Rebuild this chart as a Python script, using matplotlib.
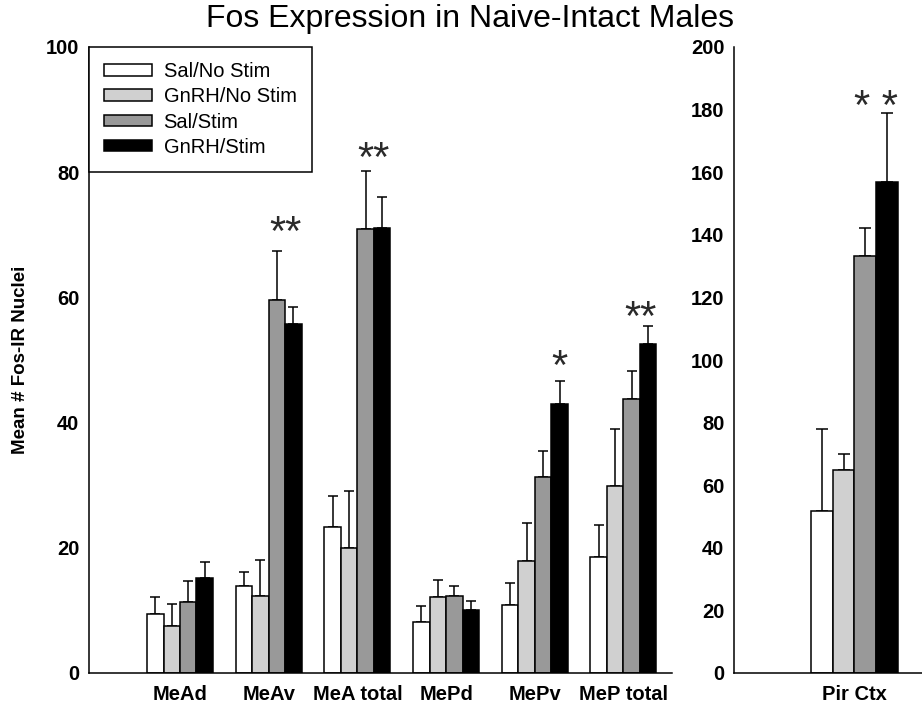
import matplotlib
matplotlib.use('Agg')
import matplotlib.pyplot as plt
import numpy as np

regions = ['MeAd', 'MeAv', 'MeA total', 'MePd', 'MePv', 'MeP total']
treatments = ['Sal/No Stim', 'GnRH/No Stim', 'Sal/Stim', 'GnRH/Stim']
colors = ['white', '#d0d0d0', '#999999', 'black']

# mean Fos-IR nuclei per region, one list per treatment
sal_nostim = [9.4, 13.9, 23.4, 8.1, 10.9, 18.6]
gnrh_nostim = [7.5, 12.3, 20.0, 12.2, 17.9, 29.8]
sal_stim = [11.3, 59.6, 70.9, 12.3, 31.3, 43.7]
gnrh_stim = [15.2, 55.8, 71.1, 10.0, 42.9, 52.6]

# SEM (upper bars only)
sal_nostim_err = [2.8, 2.3, 4.8, 2.6, 3.4, 5.1]
gnrh_nostim_err = [3.6, 5.7, 9.1, 2.7, 6.1, 9.1]
sal_stim_err = [3.4, 7.8, 9.3, 1.6, 4.2, 4.5]
gnrh_stim_err = [2.6, 2.6, 5.0, 1.5, 3.7, 2.9]

# piriform cortex, its own scale
pir_label = 'Pir Ctx'
pir_means = [51.6, 65.0, 133.1, 156.9]
pir_err = [26.3, 5.0, 9.2, 22.0]

# significance marks: region index, text, height
sig_regions = [1, 2, 4, 5]
sig_text = ['**', '**', '*', '**']
sig_y = [70.1, 81.9, 48.7, 56.5]
pir_sig_y = 180.5

means = [sal_nostim, gnrh_nostim, sal_stim, gnrh_stim]
errs = [sal_nostim_err, gnrh_nostim_err, sal_stim_err, gnrh_stim_err]

plt.rcParams['font.family'] = ['Liberation Sans', 'DejaVu Sans']

fig = plt.figure(figsize=(9.22, 7.09), dpi=100)
ax = fig.add_axes([89 / 922, 36 / 709, 583 / 922, 626 / 709])
ax2 = fig.add_axes([734 / 922, 36 / 709, 188 / 922, 626 / 709])

width = 0.186
x = np.arange(len(regions))
for j, (m, e) in enumerate(zip(means, errs)):
    xs = x + (j - 1.5) * width
    ax.bar(xs, m, width, color=colors[j], edgecolor='black', linewidth=1.1,
           label=treatments[j], zorder=2)
    ax.errorbar(xs, m, yerr=[np.zeros(len(m)), e], fmt='none', ecolor='black',
                elinewidth=1.1, capsize=3.8, capthick=1.1, zorder=1)

for i, t, y in zip(sig_regions, sig_text, sig_y):
    # double marks sit over the two stim bars, single mark over GnRH/Stim
    xm = i + width if t == '**' else i + 1.5 * width
    ax.text(xm, y, t, ha='center', va='center', fontsize=30, color='#2a2a2a')

ax.set_xlim(-1.026, 5.547)
ax.set_ylim(0, 100)
ax.set_yticks(range(0, 101, 20))
ax.set_xticks(x)
ax.set_xticklabels(regions)

w2 = 0.2
x2 = (np.arange(4) - 1.5) * w2
ax2.bar(x2, pir_means, w2, color=colors, edgecolor='black', linewidth=1.1, zorder=2)
ax2.errorbar(x2, pir_means, yerr=[np.zeros(4), pir_err], fmt='none', ecolor='black',
             elinewidth=1.1, capsize=4.6, capthick=1.1, zorder=1)
ax2.text(w2, pir_sig_y, '* *', ha='center', va='center', fontsize=30, color='#2a2a2a')
ax2.set_xlim(-1.105, 0.619)
ax2.set_ylim(0, 200)
ax2.set_yticks(range(0, 201, 20))
ax2.set_xticks([0])
ax2.set_xticklabels([pir_label])

for a in (ax, ax2):
    for s in ('top', 'right'):
        a.spines[s].set_visible(False)
    for s in ('left', 'bottom'):
        a.spines[s].set_linewidth(1.1)
    a.tick_params(length=0, labelsize=14.5)
    a.tick_params(axis='x', pad=9)
    a.tick_params(axis='y', pad=7)
    for lbl in a.get_xticklabels() + a.get_yticklabels():
        lbl.set_fontweight('bold')

ax.set_ylabel('Mean # Fos-IR Nuclei', fontsize=13.5, fontweight='bold')
ax.yaxis.set_label_coords(-0.103, 0.5)

leg = ax.legend(loc='upper left', bbox_to_anchor=(0, 1), borderaxespad=0,
                fontsize=14.5, frameon=True, fancybox=False, framealpha=1,
                edgecolor='black', handlelength=2.4, handleheight=0.5,
                handletextpad=0.55, labelspacing=0.31, borderpad=0.75)
leg.get_frame().set_linewidth(1.1)

fig.text(470 / 922, 1 - 19 / 709, 'Fos Expression in Naive-Intact Males',
         ha='center', va='center', fontsize=23)

fig.savefig('out.png', dpi=100)
